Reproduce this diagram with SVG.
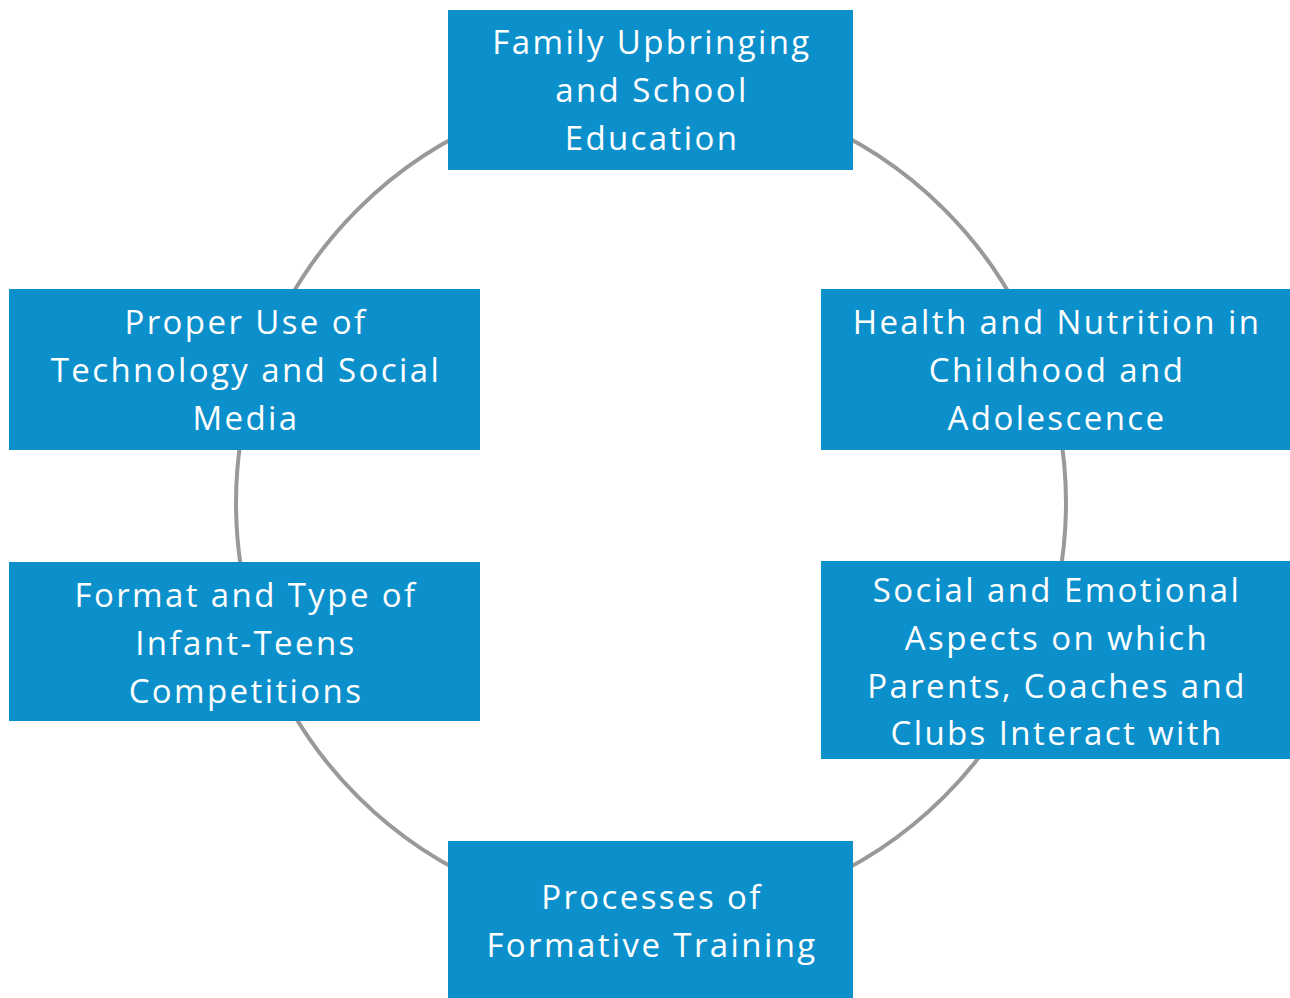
<svg xmlns="http://www.w3.org/2000/svg" width="1290" height="998" viewBox="0 0 1290 998">
<style>
.box{fill:#0b90cc;}
.t{font-family:"Open Sans","Liberation Sans",sans-serif;font-size:33px;fill:#ffffff;text-anchor:middle;letter-spacing:2.4px;}
</style>
<rect width="1290" height="998" fill="#ffffff"/>
<g id="connectors">
<circle cx="651" cy="503" r="415" fill="none" stroke="#999999" stroke-width="4"/>
</g>
<g id="n1"><rect class="box" x="448" y="10" width="405" height="160"/>
<text class="t" x="652" y="54">Family Upbringing</text><text class="t" x="652" y="102">and School</text><text class="t" x="652" y="150">Education</text></g>
<g id="n2"><rect class="box" x="821" y="289" width="469" height="161"/>
<text class="t" x="1057" y="334">Health and Nutrition in</text><text class="t" x="1057" y="382">Childhood and</text><text class="t" x="1057" y="430">Adolescence</text></g>
<g id="n3"><rect class="box" x="821" y="561" width="469" height="198"/>
<text class="t" x="1057" y="602">Social and Emotional</text><text class="t" x="1057" y="650">Aspects on which</text><text class="t" x="1057" y="698">Parents, Coaches and</text><text class="t" x="1057" y="745">Clubs Interact with</text></g>
<g id="n4"><rect class="box" x="448" y="841" width="405" height="157"/>
<text class="t" x="652" y="909">Processes of</text><text class="t" x="652" y="957">Formative Training</text></g>
<g id="n5"><rect class="box" x="9" y="562" width="471" height="159"/>
<text class="t" x="246" y="607">Format and Type of</text><text class="t" x="246" y="655">Infant-Teens</text><text class="t" x="246" y="703">Competitions</text></g>
<g id="n6"><rect class="box" x="9" y="289" width="471" height="161"/>
<text class="t" x="246" y="334">Proper Use of</text><text class="t" x="246" y="382">Technology and Social</text><text class="t" x="246" y="430">Media</text></g>
</svg>
